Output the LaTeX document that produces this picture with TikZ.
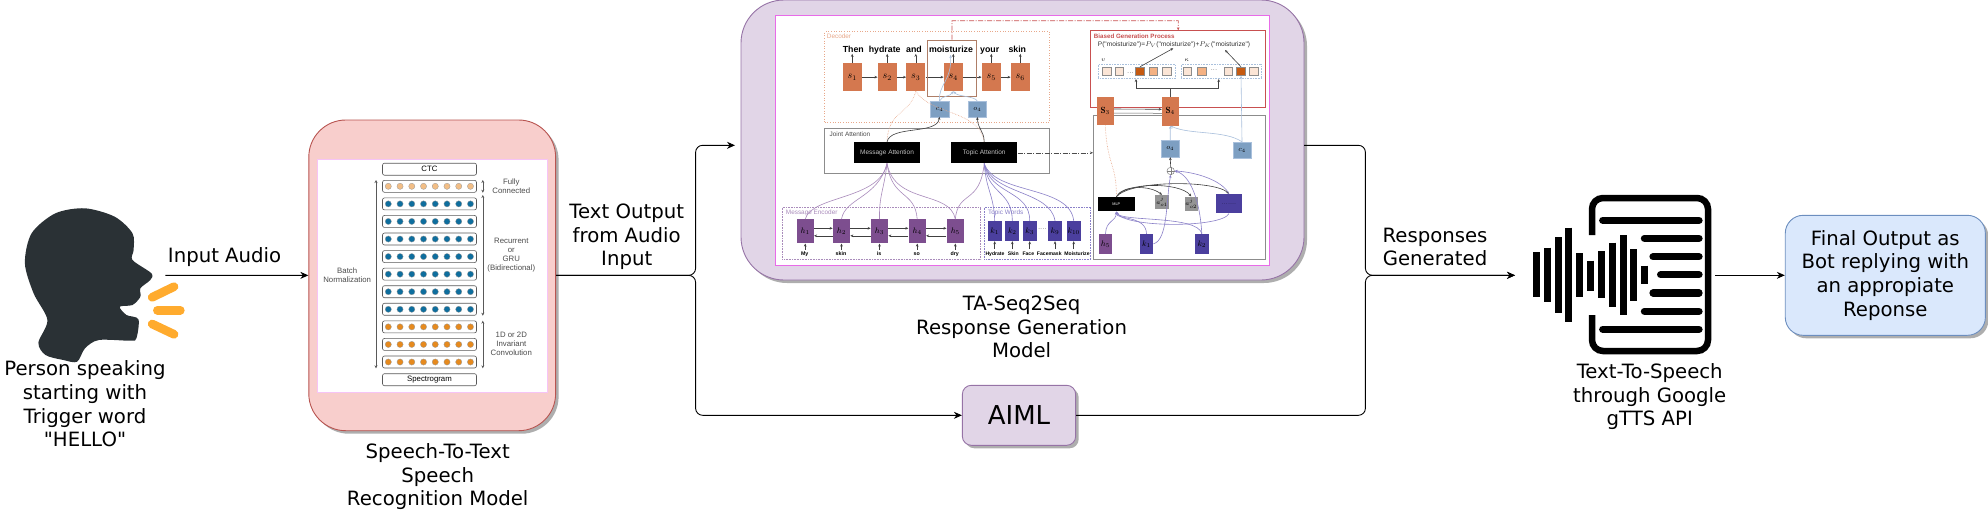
\documentclass[tikz,border=0pt]{standalone}
\usepackage{fontspec}
\newfontfamily\bodyfont{DejaVu Sans}
\newfontfamily\figfont{Liberation Sans}
\usetikzlibrary{arrows.meta,shadows}
\definecolor{headcol}{HTML}{2A3135}
\definecolor{barcol}{HTML}{FFAB2E}
\definecolor{sttfill}{HTML}{F8CECC}
\definecolor{sttline}{HTML}{B85450}
\definecolor{genfill}{HTML}{E1D5E7}
\definecolor{genline}{HTML}{9673A6}
\definecolor{outfill}{HTML}{DAE8FC}
\definecolor{outline}{HTML}{6C8EBF}
\definecolor{imgline}{HTML}{E86BE8}
\definecolor{dotpeach}{HTML}{F2BE86}
\definecolor{dotblue}{HTML}{0E6E9E}
\definecolor{dotorange}{HTML}{E68A1E}
\definecolor{scol}{HTML}{D4784F}
\definecolor{hcol}{HTML}{7D4E8F}
\definecolor{kcol}{HTML}{4B3F9E}
\definecolor{ccol}{HTML}{7D9FC2}
\definecolor{purpleln}{HTML}{A98BBB}
\definecolor{violetln}{HTML}{8A80C8}
\definecolor{blueln}{HTML}{A9C0DC}
\definecolor{orangeln}{HTML}{E8A88A}
\definecolor{redln}{HTML}{C85050}
\definecolor{sqlight}{HTML}{FBE5D6}
\definecolor{sqmid}{HTML}{F4B183}
\definecolor{sqdark}{HTML}{C55A11}
\tikzset{
  >={Stealth[length=8pt,width=7pt]},
  mainlabel/.style={align=center,inner sep=0,font=\bodyfont\fontsize{19.7}{23.7}\selectfont},
  conn/.style={->,line width=.9pt,rounded corners=7pt},
  panel/.style={rectangle,draw,line width=.9pt,inner sep=0,drop shadow={shadow xshift=3pt,shadow yshift=-3pt,fill=black!45,opacity=.7}},
  figlabel/.style={inner sep=0,align=center,font=\figfont\fontsize{#1}{9}\selectfont},
  rowbox/.style={rectangle,draw=black!65,line width=.6pt,rounded corners=2pt,minimum width=94pt,minimum height=12pt,inner sep=0},
  spanln/.style={{Stealth[length=3pt,width=3pt]}-{Stealth[length=3pt,width=3pt]},line width=.5pt,black!65},
  minilink/.style={-{Stealth[length=3pt,width=2.6pt]},line width=.6pt,black!75},
  softline/.style={-{Stealth[length=3pt,width=2.6pt]},line width=.6pt},
  cell/.style={rectangle,inner sep=0,font=\fontsize{10}{10}\selectfont},
  group/.style={rectangle,inner sep=0,line width=.6pt,dotted},
  square/.style={rectangle,draw=black!45,line width=.5pt,minimum size=8.6pt,inner sep=0},
}
\begin{document}
\begin{tikzpicture}[x=1pt,y=-1pt]
\useasboundingbox (0,0) rectangle (1988,512);

% Speaker
\fill[headcol] plot[smooth cycle,tension=.5] coordinates {(38.4,342.7) (47.4,320) (33.6,293.3) (24.9,263.3) (31.6,233.3) (55.4,213.3) (85,208.3) (114.7,216.7) (132.5,233.3) (133.6,250) (132.5,260) (151.4,273.3) (150.3,280) (140.4,288.3) (140.4,296.7) (132.5,305) (119.8,306.7) (126.5,315) (138.4,319.3) (136.4,338.3) (130.5,340.7) (98.9,340) (85,348.3) (77.1,361.7) (63.3,360) (45.5,355)};
\draw[barcol,line width=8.7pt,line cap=round] (152.2,297.3) -- (174,286.7);
\draw[barcol,line width=8.7pt,line cap=round] (157.4,310.3) -- (180.3,310.3);
\draw[barcol,line width=8.7pt,line cap=round] (152.2,324) -- (174,334.3);
\node[mainlabel] (speaker) at (85,403.8) {Person speaking\\starting with\\Trigger word\\"HELLO"};
\coordinate (voice) at (165.3,275.3);

% Speech recognition panel
\node[panel,fill=sttfill,draw=sttline,rounded corners=37pt,minimum width=246.8pt,minimum height=310.7pt] (stt) at (432.2,275.35) {};
\node[rectangle,fill=white,draw=imgline!40,line width=.6pt,inner sep=0,minimum width=229.4pt,minimum height=233.3pt] (sttimg) at (432.2,275.65) {};
\node[rowbox] (ctc) at (429.5,169.2) {\figfont\fontsize{7.8}{9}\selectfont CTC};
\node[rowbox] (spec) at (429.5,379.7) {\figfont\fontsize{7.8}{9}\selectfont Spectrogram};
\foreach \i/\dotcol in {0/dotpeach,1/dotblue,2/dotblue,3/dotblue,4/dotblue,5/dotblue,6/dotblue,7/dotblue,8/dotorange,9/dotorange,10/dotorange}{
  \node[rowbox] (row\i) at (429.5,186.3+17.57*\i) {};
  \foreach \j in {0,...,7}
    \fill[\dotcol,draw=black!40,line width=.3pt] (388.3+11.74*\j,186.3+17.57*\i) circle (3.1);
}
\draw[spanln] (376,180) -- (376,368.3);
\draw[spanln] (482.8,180) -- (482.8,192.7);
\draw[spanln] (482.8,195) -- (482.8,315.7);
\draw[spanln] (482.8,320.7) -- (482.8,368.3);
\node[figlabel=7.8,black!70] (batchlab) at (347.2,275.7) {Batch\\Normalization};
\node[figlabel=7.8,black!70] (fclab) at (511.3,186.2) {Fully\\Connected};
\node[figlabel=7.8,black!70] (rnnlab) at (511.3,255.3) {Recurrent\\or\\GRU\\(Bidirectional)};
\node[figlabel=7.8,black!70] (convlab) at (511.3,344.3) {1D or 2D\\Invariant\\Convolution};
\node[mainlabel] (sttlab) at (437.7,476.7) {Speech-To-Text\\Speech\\Recognition Model};

% Response generation panel
\node[panel,fill=genfill,draw=genline,rounded corners=43pt,minimum width=563pt,minimum height=280pt] (gen) at (1022.5,140) {};
\node[rectangle,fill=white,draw=imgline,line width=1.1pt,inner sep=0,minimum width=494pt,minimum height=249.6pt] (genimg) at (1022.3,140.5) {};
\coordinate (genin) at (735,145.3);
\coordinate (genout) at (1304,145.3);

% Decoder
\node[group,draw=orangeln,minimum width=224.6pt,minimum height=90.6pt] (decoder) at (937,77) {};
\node[figlabel=6.4,orangeln] (decoderlab) at (839,36.7) {Decoder};
\foreach \i/\sx in {1/852.2,2/887.2,3/915.8,4/953.3,5/991.3,6/1020.3}{
  \node[cell,fill=scol,minimum width=19pt,minimum height=27.7pt] (s\i) at (\sx,77.15) {$s_\i$};
  \draw[minilink] (s\i.north) -- +(0,-9.3);
}
\foreach \a/\b in {1/2,2/3,3/4,4/5,5/6}
  \draw[minilink] (s\a) -- (s\b);
\foreach \i/\wordx/\word in {1/853.3/Then,2/884.7/hydrate,3/914/and,4/951/moisturize,5/989.7/your,6/1017.3/skin}
  \node[anchor=base,inner sep=0,font=\figfont\bfseries\fontsize{8.8}{10}\selectfont] (word\i) at (\wordx,52) {\word};
\node[rectangle,draw=black!25!orangeln,line width=.7pt,inner sep=0,minimum width=49.4pt,minimum height=56.7pt] (focus) at (952,68.35) {};
\node[cell,fill=ccol,draw=blueln,minimum width=19pt,minimum height=15.4pt,font=\fontsize{7.5}{8}\selectfont] (c4) at (939.5,109) {$c_4$};
\node[cell,fill=ccol,draw=blueln,minimum width=18.7pt,minimum height=15.4pt,font=\fontsize{7.5}{8}\selectfont] (o4) at (977.3,109) {$o_4$};
\coordinate (s4up) at (950.5,55);
\draw[softline,blueln] (c4.north) .. controls (938,85) and (952,80) .. (s4up);
\draw[softline,blueln] (c4.north) .. controls (942,95) and (950,97) .. (s4.south);
\draw[softline,blueln] (o4.north) .. controls (975,96) and (958,97) .. (s4.south);

% Joint attention
\node[group,solid,draw=black!45,minimum width=225.3pt,minimum height=44.6pt] (joint) at (936.7,151) {};
\node[figlabel=6.4,black!70] (jointlab) at (850,134) {Joint Attention};
\node[rectangle,fill=black,text=black!25,inner sep=0,minimum width=66.6pt,minimum height=21pt,font=\figfont\fontsize{6.5}{8}\selectfont] (msgatt) at (887,152.8) {Message Attention};
\node[rectangle,fill=black,text=black!25,inner sep=0,minimum width=66.3pt,minimum height=21pt,font=\figfont\fontsize{6.5}{8}\selectfont] (topatt) at (984.2,152.8) {Topic Attention};
\draw[densely dotted,orangeln,line width=.6pt] (s3.south) .. controls (910,115) and (888,110) .. (msgatt.north);
\draw[densely dotted,orangeln,line width=.6pt] (s3.south) .. controls (930,115) and (980,110) .. (topatt.north);
\draw[minilink] (msgatt.north) .. controls (890,125) and (937,135) .. (c4.south);
\draw[minilink] (topatt.north) .. controls (984,130) and (978,130) .. (o4.south);

% Message encoder
\node[group,densely dotted,draw=purpleln,minimum width=198.4pt,minimum height=52.3pt] (encoder) at (881.5,233.2) {};
\node[figlabel=6.4,purpleln] (encoderlab) at (811.7,213.3) {Message Encoder};
\foreach \i/\hx/\word in {1/805.2/My,2/841.5/skin,3/879.5/is,4/917.2/so,5/955.3/dry}{
  \node[cell,fill=hcol,minimum width=17.3pt,minimum height=24pt,font=\fontsize{8}{8}\selectfont] (h\i) at (\hx,231.3) {$h_\i$};
  \node[anchor=base,inner sep=0,font=\figfont\bfseries\fontsize{5.3}{6}\selectfont] (hword\i) at (\hx-.5,255.2) {\word};
  \draw[minilink] (h\i.south) ++(0,6) -- (h\i.south);
}
\foreach \a/\b in {1/2,2/3,3/4,4/5}{
  \draw[minilink] ([yshift=3pt]h\a.east) -- ([yshift=3pt]h\b.west);
  \draw[minilink] ([yshift=-4.5pt]h\b.west) -- ([yshift=-4.5pt]h\a.east);
}
\draw[purpleln,line width=.6pt] (h1.north) .. controls (812,195) and (880,200) .. (msgatt.south);
\draw[purpleln,line width=.6pt] (h2.north) .. controls (845,198) and (878,198) .. (msgatt.south);
\draw[purpleln,line width=.6pt] (h3.north) .. controls (879,195) and (884,190) .. (msgatt.south);
\draw[purpleln,line width=.6pt] (h4.north) .. controls (915,190) and (892,200) .. (msgatt.south);
\draw[purpleln,line width=.6pt] (h5.north) .. controls (950,190) and (895,205) .. (msgatt.south);
\draw[purpleln,line width=.6pt] (h5.north) .. controls (958,190) and (980,205) .. (topatt.south);

% Topic words
\node[group,densely dotted,draw=violetln,minimum width=106.4pt,minimum height=52.3pt] (topics) at (1037.5,233.2) {};
\node[figlabel=6.4,violetln] (topicslab) at (1005.7,213.3) {Topic Words};
\foreach \i/\kx/\lab/\wordx/\word/\cax/\cay/\cbx/\cby in {1/994.7/1/995/Hydrate/994/195/986/190,2/1012.3/2/1013.3/Skin/1012/190/988/195,3/1029.7/3/1028.3/Face/1030/190/990/195,9/1055/9/1049.3/Facemask/1050/190/992/195,10/1073.7/{10}/1077/Moisturize/1070/185/995/195}{
  \node[cell,fill=kcol,minimum width=13.7pt,minimum height=20pt,font=\fontsize{8}{8}\selectfont] (k\i) at (\kx,231) {$k_{\lab}$};
  \node[anchor=base,inner sep=0,font=\figfont\bfseries\fontsize{5.1}{6}\selectfont] (kword\i) at (\wordx,255.8) {\word};
  \draw[minilink] (k\i.south) ++(0,8) -- (k\i.south);
  \draw[violetln,line width=.6pt] (k\i.north) .. controls (\cax,\cay) and (\cbx,\cby) .. (topatt.south);
}
\node[inner sep=0,font=\fontsize{6}{6}\selectfont] (kdots) at (1042.3,229.5) {....};

% Biased generation
\node[rectangle,draw=redln,line width=.8pt,inner sep=0,minimum width=175pt,minimum height=77pt] (biased) at (1178.2,69.2) {};
\node[inner sep=0,text=redln,font=\figfont\bfseries\fontsize{6.2}{7}\selectfont] (biasedlab) at (1134.3,36.3) {Biased Generation Process};
\node[inner sep=0,text=black!80,font=\figfont\fontsize{6.6}{8}\selectfont] (formula) at (1174,44.3) {P("moisturize")=$P_V$("moisturize")+$P_K$("moisturize")};
\node[group,densely dotted,draw=blueln,minimum width=76.7pt,minimum height=14.4pt] (vbox) at (1136.7,71.5) {};
\node[group,densely dotted,draw=blueln,minimum width=80.7pt,minimum height=14.4pt] (kbox) at (1221.3,71.5) {};
\node[inner sep=0,font=\fontsize{6}{6}\selectfont] (vlab) at (1103.3,60.7) {$v$};
\node[inner sep=0,font=\fontsize{6}{6}\selectfont] (klab) at (1186.7,60) {$\kappa$};
\foreach \n/\qx/\qcol in {v1/1106.7/sqlight,v2/1119.3/sqlight,v3/1140/sqdark,v4/1153.3/sqmid,v5/1166.7/sqlight,k1/1187.3/sqlight,k2/1202/sqmid,k3/1228.3/sqlight,k4/1241/sqdark,k5/1253.7/sqlight}
  \node[square,fill=\qcol] (sq\n) at (\qx,71.3) {};
\node[inner sep=0,font=\fontsize{6}{6}\selectfont] (vdots) at (1130.3,73) {...};
\node[inner sep=0,font=\fontsize{6}{6}\selectfont] (kdashes) at (1214,70) {...};

% Score computation
\node[rectangle,draw=black!45,line width=.7pt,inner sep=0,minimum width=172.4pt,minimum height=143.7pt] (scorer) at (1179.5,187.2) {};
\node[cell,fill=scol,minimum width=16.7pt,minimum height=28.6pt,font=\fontsize{9}{9}\selectfont] (S3) at (1105.3,111) {$\mathbf{S}_3$};
\node[cell,fill=scol,minimum width=16.7pt,minimum height=28.6pt,font=\fontsize{9}{9}\selectfont] (S4) at (1170.3,111.3) {$\mathbf{S}_4$};
\node[cell,fill=ccol,draw=blueln,minimum width=18.3pt,minimum height=16.7pt,font=\fontsize{7.5}{8}\selectfont] (oo4) at (1170.2,148.6) {$o_4$};
\node[cell,fill=ccol,draw=blueln,minimum width=18.6pt,minimum height=16pt,font=\fontsize{7.5}{8}\selectfont] (cc4) at (1242,150) {$c_4$};
\node[circle,draw=black!50,line width=.5pt,fill=white,minimum size=7.4pt,inner sep=0] (merge) at (1170.7,171) {};
\draw[black!50,line width=.4pt] (merge.north) -- (merge.south) (merge.west) -- (merge.east);
\node[cell,fill=black,text=white,minimum width=37.3pt,minimum height=14.3pt,font=\figfont\fontsize{3.8}{4}\selectfont] (mlp) at (1116.3,204.2) {MLP};
\node[cell,fill=black!42,minimum width=14.3pt,minimum height=14.3pt,font=\fontsize{6}{6}\selectfont] (a1) at (1162,202.2) {$a^j_{o1}$};
\node[cell,fill=black!42,minimum width=13pt,minimum height=14.6pt,font=\fontsize{6}{6}\selectfont] (a2) at (1191.2,204) {$a^j_{o2}$};
\node[cell,fill=kcol,minimum width=26.6pt,minimum height=19.3pt,font=\fontsize{5}{5}\selectfont] (rest) at (1229,203.7) {.......};
\node[cell,fill=hcol,minimum width=13.6pt,minimum height=19.7pt,font=\fontsize{8}{8}\selectfont] (hh5) at (1105.5,243.8) {$h_5$};
\node[cell,fill=kcol,minimum width=13.6pt,minimum height=19.7pt,font=\fontsize{8}{8}\selectfont] (kk1) at (1146.5,243.8) {$k_1$};
\node[cell,fill=kcol,minimum width=13.7pt,minimum height=19.7pt,font=\fontsize{8}{8}\selectfont] (kk2) at (1201.8,243.8) {$k_2$};
\coordinate (pvend) at (1173.3,48.3);
\coordinate (pkend) at (1225,50);
\coordinate (forkv) at (1136,88.3);
\coordinate (forkk) at (1218.7,88.3);
\coordinate (forkm) at (1170.3,88.3);
\draw[minilink] ([yshift=2pt]S3.east) -- ([yshift=2pt]S4.west);
\draw[black!60,line width=.5pt] ([yshift=-2pt]S3.east) -- ([yshift=-2pt]S4.west);
\draw[softline,blueln] (oo4.north) -- (S4.south);
\draw[softline,blueln] (cc4.north) .. controls (1225,130) and (1190,135) .. (S4.south);
\draw[softline,blueln] (cc4.north) -- (sqk4.south);
\draw[minilink] (merge.north) -- (oo4.south);
\draw[minilink] (sqv3.north) -- (pvend);
\draw[minilink] (sqk4.north) -- (pkend);
\draw[black!70,line width=.6pt] (S4.north) -- (forkm);
\draw[minilink] (forkv) -- (vbox.south -| forkv);
\draw[minilink] (forkk) -- (kbox.south -| forkk);
\draw[black!70,line width=.6pt] (forkv) -- (forkk);
\draw[densely dotted,orangeln,line width=.6pt] (S3.south) .. controls (1107,165) and (1117,165) .. (mlp.north);
\draw[minilink] (mlp.north) .. controls (1122,185) and (1150,185) .. (a1.north);
\draw[minilink] (mlp.north) .. controls (1125,182) and (1180,182) .. (a2.north);
\draw[minilink] (mlp.north) .. controls (1130,180) and (1215,180) .. (rest.north);
\draw[softline,violetln] (rest.north) .. controls (1222,180) and (1195,172) .. (merge.east);
\draw[softline,violetln] (kk2.north) .. controls (1200,200) and (1190,175) .. (merge.east);
\draw[softline,violetln] (kk1.east) .. controls (1168,240) and (1166,200) .. (merge.south);
\draw[softline,violetln] (hh5.north) .. controls (1106,220) and (1116,222) .. (mlp.south);
\draw[softline,violetln] (kk1.north) .. controls (1146,215) and (1116,220) .. (mlp.south);
\draw[softline,violetln] (kk2.north) .. controls (1198,215) and (1120,222) .. (mlp.south);
\draw[softline,violetln] (rest.south) .. controls (1222,228) and (1125,228) .. (mlp.south);
\draw[-{Stealth[length=3pt,width=2.6pt]},black!70,line width=.6pt,dash pattern=on 5pt off 1.5pt on 1pt off 1.5pt] (topatt.east) -- (scorer.west |- topatt.east);
\coordinate (redcornera) at (952,20.7);
\coordinate (redcornerb) at (1178.3,20.7);
\draw[-{Stealth[length=3pt,width=2.6pt]},redln,line width=.6pt,dash pattern=on 5pt off 1.5pt on 1pt off 1.5pt] (focus.north) -- (redcornera) -- (redcornerb) -- (biased.north);
\node[mainlabel] (genlab) at (1021.6,327) {TA-Seq2Seq\\Response Generation\\Model};

% Rule based branch
\node[panel,fill=genfill,draw=genline,rounded corners=9pt,minimum width=113.3pt,minimum height=60pt,font=\bodyfont\fontsize{26}{31}\selectfont] (aiml) at (1019,415.3) {AIML};

% Text to speech icon
\draw[line width=6.5pt,rounded corners=11pt] (1592,235) -- (1592,198) -- (1708,198) -- (1708,351) -- (1592,351) -- (1592,315);
\foreach \lx/\ly in {1599.7/220.3,1641.4/238.3,1650/256.7,1657.6/274.7,1650/293,1641.4/311.3,1599.7/329.3}
  \draw[line width=7.2pt,line cap=round] (\lx+3,\ly) -- (1699,\ly);
\foreach \bx/\ya/\yb in {1536.1/252.3/297.3,1547/247.7/302,1558/237/313.3,1568.5/227.7/322.3,1579.5/253/296.7,1590.5/260.7/291.3,1601.4/251.3/298.3,1612.4/242.7/307.3,1623/235/315,1633.9/249.3/300.7,1644.9/265.7/284}
  \draw[line width=7pt] (\bx,\ya) -- (\bx,\yb);
\coordinate (ttsin) at (1515,275.3);
\coordinate (ttsout) at (1715,275.3);
\node[mainlabel] (ttslab) at (1649.7,396.7) {Text-To-Speech\\through Google\\gTTS API};

% Final output
\node[panel,fill=outfill,draw=outline,rounded corners=18pt,minimum width=200.1pt,minimum height=120pt,font=\bodyfont\fontsize{19.7}{23.7}\selectfont,align=center] (final) at (1885.3,275.3) {Final Output as\\Bot replying with\\an appropiate\\Reponse};

% Connectors
\coordinate (forkin) at (695.6,275.35);
\coordinate (forkout) at (1365.4,275.3);
\draw[conn] (voice) -- (stt.west);
\draw[conn] (stt.east) -- (forkin) |- (genin);
\draw[conn] (stt.east) -- (forkin) |- (aiml.west);
\draw[conn] (genout) -| (forkout) -- (ttsin);
\draw[conn] (aiml.east) -| (forkout) -- (ttsin);
\draw[conn] (ttsout) -- (final.west);
\node[mainlabel] (inputlab) at (224.6,256.7) {Input Audio};
\node[mainlabel] (textlab) at (626.7,237) {Text Output\\from Audio\\Input};
\node[mainlabel] (resplab) at (1435,247) {Responses\\Generated};
\end{tikzpicture}
\end{document}
